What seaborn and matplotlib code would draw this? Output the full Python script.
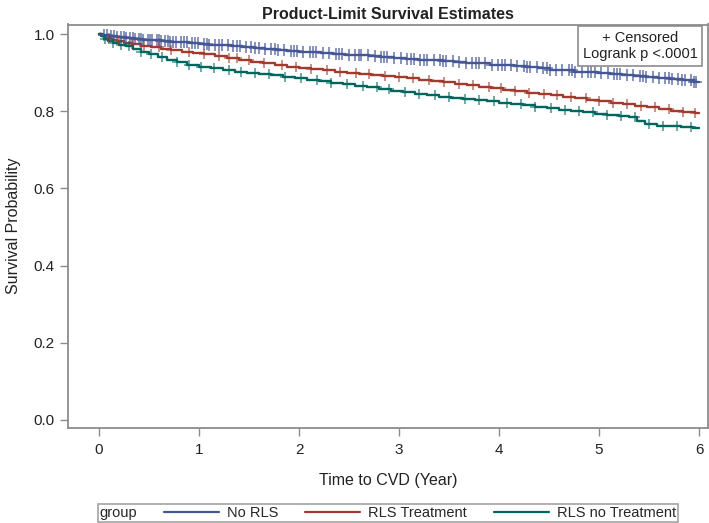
import numpy as np
import pandas as pd
import matplotlib
matplotlib.use("Agg")
import matplotlib.pyplot as plt
import seaborn as sns
from matplotlib.lines import Line2D

groups = ["No RLS", "RLS Treatment", "RLS no Treatment"]
colors = ["#445694", "#A23A2E", "#01665E"]

t_norls = [0, 0.04, 0.10, 0.18, 0.27, 0.35, 0.44, 0.53, 0.62, 0.71, 0.80, 0.90, 1.00, 1.10,
           1.21, 1.32, 1.43, 1.55, 1.66, 1.77, 1.88, 2.00, 2.11, 2.22, 2.34, 2.46, 2.58, 2.70,
           2.82, 2.95, 3.07, 3.19, 3.31, 3.43, 3.55, 3.67, 3.79, 3.91, 4.03, 4.15, 4.27, 4.39,
           4.51, 4.63, 4.75, 4.87, 4.99, 5.11, 5.23, 5.35, 5.47, 5.59, 5.71, 5.83, 5.95, 6.00]
s_norls = [1.000, 0.998, 0.995, 0.993, 0.990, 0.988, 0.986, 0.984, 0.982, 0.980, 0.979, 0.977,
           0.975, 0.973, 0.971, 0.969, 0.966, 0.963, 0.961, 0.959, 0.957, 0.955, 0.953, 0.951,
           0.949, 0.947, 0.945, 0.943, 0.941, 0.938, 0.936, 0.934, 0.932, 0.930, 0.928, 0.926,
           0.924, 0.921, 0.919, 0.917, 0.914, 0.911, 0.908, 0.906, 0.903, 0.901, 0.898, 0.896,
           0.893, 0.891, 0.888, 0.886, 0.883, 0.880, 0.877, 0.876]

t_rlstx = [0, 0.03, 0.07, 0.12, 0.18, 0.25, 0.33, 0.42, 0.52, 0.62, 0.72, 0.83, 0.94, 1.05,
           1.16, 1.28, 1.40, 1.52, 1.64, 1.76, 1.88, 2.00, 2.12, 2.24, 2.36, 2.48, 2.60, 2.72,
           2.84, 2.96, 3.08, 3.20, 3.32, 3.44, 3.56, 3.68, 3.80, 3.92, 4.04, 4.16, 4.28, 4.40,
           4.52, 4.64, 4.76, 4.88, 5.00, 5.12, 5.24, 5.36, 5.48, 5.60, 5.72, 5.84, 5.96, 6.00]
s_rlstx = [1.000, 0.995, 0.990, 0.986, 0.982, 0.978, 0.974, 0.970, 0.966, 0.962, 0.959, 0.955,
           0.952, 0.948, 0.944, 0.938, 0.933, 0.928, 0.924, 0.920, 0.916, 0.912, 0.909, 0.906,
           0.903, 0.900, 0.897, 0.894, 0.891, 0.889, 0.886, 0.882, 0.879, 0.875, 0.872, 0.868,
           0.864, 0.860, 0.856, 0.852, 0.848, 0.845, 0.842, 0.838, 0.834, 0.830, 0.826, 0.822,
           0.818, 0.814, 0.810, 0.806, 0.802, 0.799, 0.796, 0.795]

t_rlsno = [0, 0.02, 0.05, 0.09, 0.14, 0.20, 0.27, 0.34, 0.42, 0.50, 0.59, 0.68, 0.78, 0.88,
           1.00, 1.12, 1.24, 1.36, 1.48, 1.60, 1.72, 1.84, 1.96, 2.08, 2.20, 2.32, 2.44, 2.56,
           2.68, 2.80, 2.92, 3.04, 3.16, 3.28, 3.40, 3.52, 3.64, 3.76, 3.88, 4.00, 4.12, 4.24,
           4.36, 4.48, 4.60, 4.72, 4.84, 4.96, 5.08, 5.20, 5.30, 5.38, 5.46, 5.58, 5.70, 5.82,
           5.94, 6.00]
s_rlsno = [1.000, 0.994, 0.988, 0.983, 0.978, 0.973, 0.968, 0.962, 0.955, 0.948, 0.941, 0.934,
           0.927, 0.921, 0.915, 0.911, 0.907, 0.903, 0.899, 0.896, 0.893, 0.889, 0.886, 0.882,
           0.878, 0.874, 0.870, 0.866, 0.862, 0.857, 0.853, 0.849, 0.845, 0.841, 0.838, 0.835,
           0.832, 0.829, 0.826, 0.822, 0.819, 0.816, 0.812, 0.808, 0.804, 0.800, 0.797, 0.794,
           0.791, 0.788, 0.785, 0.776, 0.766, 0.763, 0.761, 0.759, 0.757, 0.756]

c_norls = [0.05, 0.08, 0.12, 0.15, 0.18, 0.22, 0.25, 0.27, 0.31, 0.34, 0.36, 0.4, 0.42, 0.44,
           0.49, 0.51, 0.53, 0.58, 0.6, 0.62, 0.66, 0.69, 0.71, 0.74, 0.77, 0.82, 0.85, 0.88,
           0.93, 0.96, 0.99, 1.05, 1.08, 1.1, 1.16, 1.2, 1.23, 1.29, 1.34, 1.38, 1.41, 1.47,
           1.52, 1.56, 1.6, 1.66, 1.72, 1.76, 1.79, 1.85, 1.92, 1.95, 1.98, 2.04, 2.11, 2.14,
           2.17, 2.24, 2.3, 2.37, 2.4, 2.43, 2.5, 2.56, 2.6, 2.62, 2.69, 2.76, 2.82, 2.85,
           2.88, 2.95, 3.02, 3.08, 3.12, 3.15, 3.21, 3.25, 3.28, 3.35, 3.41, 3.44, 3.47, 3.54,
           3.6, 3.67, 3.73, 3.77, 3.8, 3.86, 3.93, 3.99, 4.03, 4.06, 4.12, 4.18, 4.25, 4.28,
           4.31, 4.38, 4.44, 4.48, 4.51, 4.57, 4.63, 4.7, 4.73, 4.76, 4.83, 4.89, 4.92, 4.96,
           5.02, 5.09, 5.15, 5.18, 5.21, 5.28, 5.34, 5.41, 5.44, 5.47, 5.54, 5.6, 5.66, 5.7,
           5.73, 5.79, 5.83, 5.86, 5.92, 5.95, 5.97]
c_rlstx = [0.1, 0.2, 0.33, 0.45, 0.6, 0.72, 0.9, 1.05, 1.2, 1.3, 1.38, 1.5, 1.65, 1.83, 1.97,
           2.12, 2.28, 2.41, 2.57, 2.7, 2.86, 3.0, 3.14, 3.3, 3.45, 3.6, 3.74, 3.9, 4.02, 4.16,
           4.3, 4.45, 4.58, 4.72, 4.87, 5.0, 5.14, 5.28, 5.42, 5.56, 5.7, 5.84, 5.96]
c_rlsno = [0.06, 0.14, 0.22, 0.3, 0.42, 0.52, 0.63, 0.78, 0.9, 1.02, 1.15, 1.3, 1.42, 1.56,
           1.7, 1.86, 2.02, 2.18, 2.32, 2.48, 2.64, 2.78, 2.9, 3.06, 3.2, 3.36, 3.5, 3.66, 3.8,
           3.95, 4.08, 4.22, 4.36, 4.52, 4.66, 4.8, 4.94, 5.08, 5.22, 5.36, 5.5, 5.64, 5.78, 5.92]

x_ticks = [0, 1, 2, 3, 4, 5, 6]
y_ticks = [0.0, 0.2, 0.4, 0.6, 0.8, 1.0]

curves = [(t_norls, s_norls, c_norls), (t_rlstx, s_rlstx, c_rlstx), (t_rlsno, s_rlsno, c_rlsno)]

rows, crow = [], []
for g, (t, s, c) in zip(groups, curves):
    t = np.asarray(t); s = np.asarray(s)
    for ti, si in zip(t, s):
        rows.append((g, ti, si))
    idx = np.searchsorted(t, np.asarray(c), side="right") - 1
    for ci, si in zip(c, s[idx]):
        crow.append((g, ci, si))
df = pd.DataFrame(rows, columns=["group", "time", "surv"])
dc = pd.DataFrame(crow, columns=["group", "time", "surv"])

sns.set_theme(style="white")
plt.rcParams["font.family"] = ["Liberation Sans", "DejaVu Sans"]

fig = plt.figure(figsize=(7.09, 5.23), dpi=100)
ax = fig.add_axes([68 / 709, 1 - 428 / 523, 640 / 709, (428 - 24.5) / 523])

pal = dict(zip(groups, colors))
sns.lineplot(data=df, x="time", y="surv", hue="group", palette=pal, drawstyle="steps-post",
             estimator=None, linewidth=1.7, ax=ax, legend=False)
sizes = {"No RLS": 75, "RLS Treatment": 55, "RLS no Treatment": 55}
alphas = {"No RLS": 0.75, "RLS Treatment": 0.65, "RLS no Treatment": 0.65}
for g in groups:
    sub = dc[dc.group == g]
    sns.scatterplot(x=sub.time, y=sub.surv, marker="+", s=sizes[g], color=pal[g],
                    linewidth=1.2, alpha=alphas[g], zorder=3, ax=ax, legend=False)

ax.set_xlim(-0.31, 6.09)
ax.set_ylim(-0.021, 1.025)
ax.set_xticks(x_ticks)
ax.set_xticklabels([str(v) for v in x_ticks])
ax.set_yticks(y_ticks)
ax.set_yticklabels([f"{v:.1f}" for v in y_ticks])
for sp in ax.spines.values():
    sp.set_color("#8c8c8c")
    sp.set_linewidth(1.3)
ax.tick_params(axis="both", colors="#8c8c8c", labelcolor="#222222", length=6, width=1,
               labelsize=11, direction="out", bottom=True, left=True)
ax.tick_params(axis="x", pad=5)
ax.set_xlabel("Time to CVD (Year)", fontsize=11.5, color="#222222", labelpad=11)
ax.set_ylabel("Survival Probability", fontsize=11.5, color="#222222", labelpad=9)
ax.set_title("Product-Limit Survival Estimates", fontsize=11.5, fontweight="bold",
             color="#222222", pad=4)

ax.text(0.894, 0.947, "+ Censored\nLogrank p <.0001", transform=ax.transAxes, ha="center",
        va="center", fontsize=10.5, color="#222222", linespacing=1.25,
        bbox=dict(boxstyle="square,pad=0.3", fc="white", ec="#8c8c8c", lw=1.2))

handles = [Line2D([], [], color=c, lw=1.6) for c in colors]
leg = fig.legend(handles, groups, loc="lower center", bbox_to_anchor=(388 / 709, 1 / 523),
                 ncol=3, frameon=True, fontsize=10.5, handlelength=3.8, handletextpad=0.55,
                 columnspacing=0.8, borderpad=0.15, title="group", title_fontsize=10.5,
                 fancybox=False, edgecolor="#8c8c8c", borderaxespad=0)
leg.get_frame().set_linewidth(1.2)
c0 = leg.get_children()[0]
title_box = c0.get_children()[0]
hbox = c0.get_children()[1]
c0._children = [hbox]
hbox._children = [title_box] + hbox.get_children()
hbox.sep = 19

fig.savefig("out.png", dpi=100)
